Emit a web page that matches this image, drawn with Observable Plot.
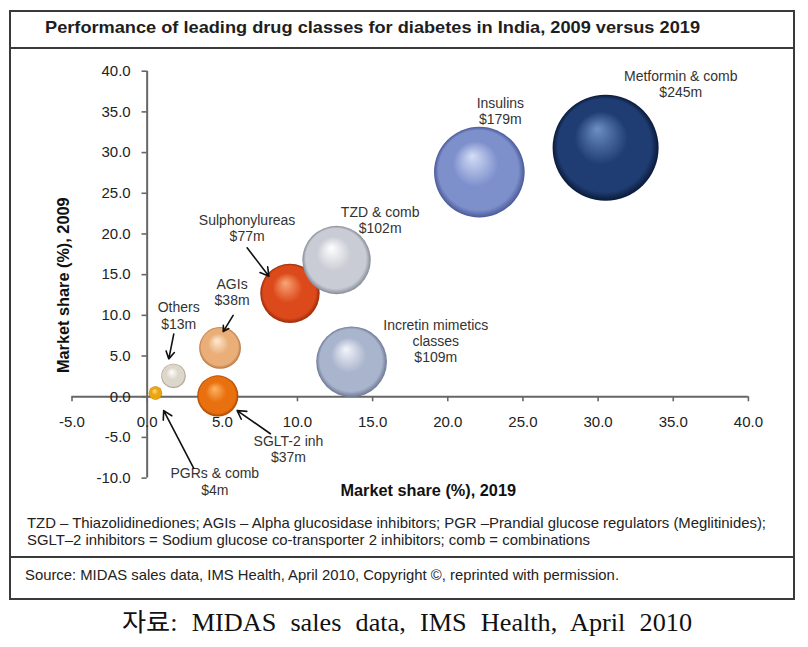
<!DOCTYPE html>
<html>
<head>
<meta charset="utf-8">
<script src="https://cdn.jsdelivr.net/npm/d3@7"></script>
<script src="https://cdn.jsdelivr.net/npm/@observablehq/plot@0.6"></script>
<style>
  html, body { margin: 0; padding: 0; background: #fff; }
  #page { position: relative; width: 808px; height: 647px; overflow: hidden; font-family: "Liberation Sans", Arial, sans-serif; }
  .frame { position: absolute; left: 9px; top: 10px; width: 786px; height: 590px; border: 2px solid #3a3a3a; box-sizing: border-box; }
  .hline { position: absolute; left: 9px; width: 786px; height: 0; border-top: 2px solid #3a3a3a; }
  .txt { position: absolute; white-space: nowrap; transform-origin: 0 0; }
  #chart { position: absolute; left: 0; top: 48px; }
</style>
</head>
<body>
<div id="page">
  <div class="frame"></div>
  <div class="hline" style="top:47px"></div>
  <div class="hline" style="top:556px"></div>
  <div id="title" class="txt" style="left:45px; font-weight:bold; font-size:17px; line-height:17px; color:#1e1e1e;">Performance of leading drug classes for diabetes in India, 2009 versus 2019</div>
  <div id="note1" class="txt" style="left:27px; font-size:15px; line-height:15px; color:#222;">TZD – Thiazolidinediones; AGIs – Alpha glucosidase inhibitors; PGR –Prandial glucose regulators (Meglitinides);</div>
  <div id="note2" class="txt" style="left:27px; font-size:15px; line-height:15px; color:#222;">SGLT–2 inhibitors = Sodium glucose co-transporter 2 inhibitors; comb = combinations</div>
  <div id="source" class="txt" style="left:25px; font-size:15px; line-height:15px; color:#222;">Source: MIDAS sales data, IMS Health, April 2010, Copyright ©, reprinted with permission.</div>
  <div id="caption" class="txt" style="left:122px; font-family:'Liberation Serif','Noto Sans CJK KR',serif; font-size:24.5px; line-height:24.5px; color:#111;">자료: MIDAS sales data, IMS Health, April 2010</div>
  <div id="chart"></div>
</div>
<script>
// ---- data ----
const names = ["Metformin & comb", "Insulins", "Sulphonylureas", "TZD & comb", "Incretin mimetics classes", "AGIs", "SGLT-2 inh", "Others", "PGRs & comb"];
const share2019 = [30.5, 22.1, 9.5, 12.6, 13.6, 4.85, 4.7, 1.75, 0.55];
const share2009 = [30.6, 27.6, 12.7, 16.8, 4.3, 6.0, 0.1, 2.55, 0.45];
const sales = [245, 179, 77, 102, 109, 38, 37, 13, 4];
const labelText = ["Metformin & comb\n$245m", "Insulins\n$179m", "Sulphonylureas\n$77m", "TZD & comb\n$102m", "Incretin mimetics\nclasses\n$109m", "AGIs\n$38m", "SGLT-2 inh\n$37m", "Others\n$13m", "PGRs & comb\n$4m"];
// label anchors (data units)
const labelX = [35.5, 23.5, 6.65, 15.5, 19.2, 5.65, 9.4, 2.1, 4.5];
const labelY = [38.5, 35.1, 20.7, 21.7, 6.9, 12.9, -6.35, 10.0, -10.4];
// callout arrows (data units)
const arrowFor = ["Sulphonylureas", "AGIs", "Others", "SGLT-2 inh", "PGRs & comb"];
const arrowX1 = [6.65, 5.72, 1.77, 8.2, 3.1];
const arrowY1 = [18.3, 10.0, 7.7, -4.55, -8.8];
const arrowX2 = [8.1, 5.06, 1.44, 5.99, 1.1];
const arrowY2 = [14.8, 8.0, 4.65, -1.7, -1.7];
const xTicks = [-5, 0, 5, 10, 15, 20, 25, 30, 35, 40];
const yTicks = [-10, -5, 0, 5, 10, 15, 20, 25, 30, 35, 40];
const xTitle = "Market share (%), 2019";
const yTitle = "Market share (%), 2009";

// ---- styles (sphere palette: highlight, base, rim) ----
const palette = [
  ["#6c8fc4", "#1f3d72", "#0a1a3a"],
  ["#d5ddf6", "#7d90cc", "#4a5a98"],
  ["#f8a676", "#dc4a1c", "#9c2a08"],
  ["#ffffff", "#c9ccd4", "#858b97"],
  ["#f3f5fa", "#a9b4cd", "#6d7896"],
  ["#feead4", "#eaae78", "#b9733c"],
  ["#fcb466", "#e8700e", "#a94400"],
  ["#ffffff", "#ddd6cb", "#a09584"],
  ["#ffe27a", "#eba512", "#b37300"]
];

const bubbles = names.map((name, i) => ({name, x: share2019[i], y: share2009[i], sales: sales[i], index: i}));
const labels = names.map((name, i) => ({text: labelText[i], x: labelX[i], y: labelY[i]}));
const arrows = arrowFor.map((name, i) => ({name, x1: arrowX1[i], y1: arrowY1[i], x2: arrowX2[i], y2: arrowY2[i]}));
const fmt = d => d.toFixed(1);

const chart = Plot.plot({
  width: 808,
  height: 460,
  marginLeft: 71.5,
  marginRight: 60.1,
  marginTop: 22.7,
  marginBottom: 30.4,
  style: {background: "transparent", overflow: "visible", fontFamily: "'Liberation Sans', Arial, sans-serif"},
  x: {domain: [-5, 40], axis: null},
  y: {domain: [-10, 40], axis: null},
  r: {domain: [0, 245], range: [0, 53]},
  color: {type: "identity"},
  marks: [
    // axes through zero
    Plot.ruleY([0], {x1: -5, x2: 40, stroke: "#666", strokeWidth: 2}),
    Plot.ruleX([0], {y1: -10, y2: 40, stroke: "#666", strokeWidth: 2}),
    Plot.ruleX(xTicks, {x: d => d, y1: 0, y2: -0.62, stroke: "#666", strokeWidth: 1.6}),
    Plot.ruleY(yTicks, {y: d => d, x1: -0.34, x2: 0, stroke: "#666", strokeWidth: 1.6}),
    Plot.text(xTicks, {x: d => d, y: 0, dy: 25, text: fmt, fontSize: 15, fill: "#222"}),
    Plot.text(yTicks, {x: 0, y: d => d, dx: -16.5, text: fmt, textAnchor: "end", fontSize: 15, fill: "#222"}),
    Plot.text([xTitle], {x: 18.7, y: -11.5, text: d => d, fontSize: 16.3, fontWeight: "bold", fill: "#111"}),
    Plot.text([yTitle], {x: -5.57, y: 13.7, text: d => d, rotate: -90, fontSize: 16.3, fontWeight: "bold", fill: "#111"}),
    // bubbles
    Plot.dot(bubbles, {x: "x", y: "y", r: "sales", fill: d => `url(#sphere-${d.index})`, stroke: "none", sort: null}),
    // labels and callouts
    Plot.text(labels, {x: "x", y: "y", text: "text", fontSize: 14, lineHeight: 1.15, fill: "#333"}),
    Plot.arrow(arrows, {x1: "x1", y1: "y1", x2: "x2", y2: "y2", stroke: "#111", strokeWidth: 1.6, headLength: 9})
  ]
});

// sphere gradients
const defs = d3.select(chart).insert("defs", ":first-child");
palette.forEach((c, i) => {
  const g = defs.append("radialGradient").attr("id", `sphere-${i}`)
    .attr("cx", "0.5").attr("cy", "0.5").attr("r", "0.5").attr("fx", "0.42").attr("fy", "0.32");
  g.append("stop").attr("offset", "0").attr("stop-color", c[0]);
  g.append("stop").attr("offset", "0.5").attr("stop-color", c[1]);
  g.append("stop").attr("offset", "0.88").attr("stop-color", c[1]);
  g.append("stop").attr("offset", "1").attr("stop-color", c[2]);
});

document.getElementById("chart").appendChild(chart);

// position texts by baseline and fit their widths
function place(id, baseline, ascentEm, fontSize) {
  const el = document.getElementById(id);
  el.style.top = (baseline - ascentEm * fontSize) + "px";
  return el;
}
function fitScale(el, target) {
  const w = el.getBoundingClientRect().width;
  return target / w;
}
const title = place("title", 33.3, 0.8465, 17);
title.style.transform = `scaleX(${fitScale(title, 655)})`;
const n1 = place("note1", 527.7, 0.8465, 15);
const n2 = place("note2", 545, 0.8465, 15);
const s1 = fitScale(n1, 739);
n1.style.transform = `scaleX(${s1})`;
n2.style.transform = `scaleX(${s1})`;
const src = place("source", 579.3, 0.8465, 15);
src.style.transform = `scaleX(${fitScale(src, 594)})`;
const cap = place("caption", 632, 0.8375, 24.5);
const capScale = 1.07;
const capW = cap.getBoundingClientRect().width;
const spaces = (cap.textContent.match(/ /g) || []).length;
cap.style.wordSpacing = Math.max(0, (570 / capScale - capW) / spaces) + "px";
cap.style.transform = `scaleX(${capScale})`;
</script>
</body>
</html>
